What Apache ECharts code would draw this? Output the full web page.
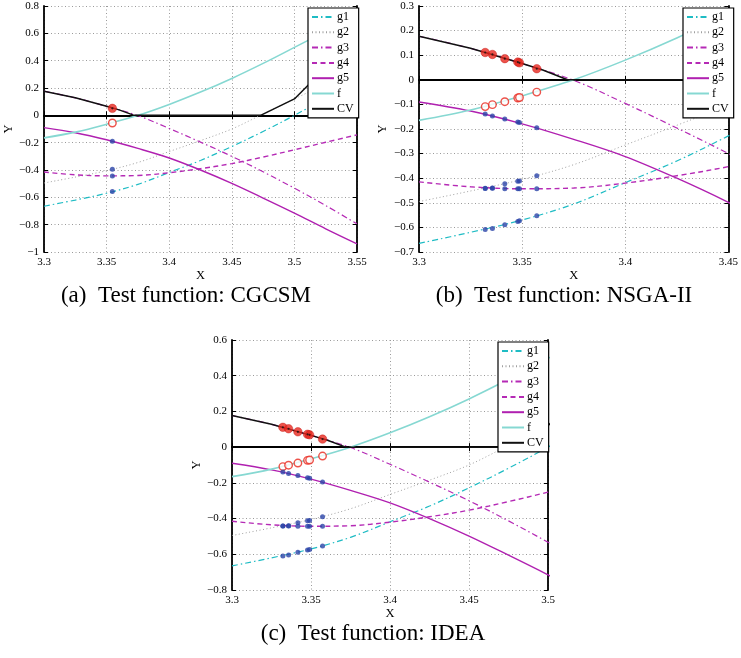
<!DOCTYPE html>
<html><head><meta charset="utf-8">
<script src="https://cdn.jsdelivr.net/npm/echarts@6/dist/echarts.min.js"></script>
<style>html,body{margin:0;padding:0;background:#fff}#c{width:741px;height:658px}</style>
</head><body><div id="c"></div>
<script>
// ---- curve samples (shared problem, same in all panels) ----
const xs  = [3.30, 3.325, 3.35, 3.375, 3.40, 3.425, 3.45, 3.475, 3.50, 3.525, 3.55];
const g1  = [-0.665, -0.62, -0.57, -0.505, -0.418, -0.33, -0.228, -0.118, 0.0, 0.128, 0.265];
const g2  = [-0.495, -0.452, -0.405, -0.345, -0.265, -0.185, -0.10, 0.01, 0.12, 0.23, 0.34];
const g3  = [0.177, 0.128, 0.066, -0.002, -0.096, -0.196, -0.30, -0.413, -0.533, -0.66, -0.794];
const g4  = [-0.415, -0.435, -0.443, -0.44, -0.42, -0.39, -0.353, -0.305, -0.252, -0.197, -0.143];
const g5  = [-0.09, -0.127, -0.179, -0.242, -0.312, -0.40, -0.498, -0.605, -0.715, -0.83, -0.94];
const fv  = [-0.165, -0.123, -0.065, 0.0, 0.08, 0.17, 0.27, 0.38, 0.497, 0.615, 0.735];
const cvX = [3.30, 3.325, 3.35, 3.36, 3.372, 3.473, 3.50, 3.525, 3.55];
const cvY = [0.177, 0.128, 0.066, 0.04, 0.0, 0.0, 0.12, 0.35, 0.59];

// ---- solutions found (a) CGCSM ----
const aX  = [3.3546];
const aCV = [0.051];
const aF  = [-0.056];
const aG5 = [-0.19];
const aG2 = [-0.395];
const aG4 = [-0.443];
const aG1 = [-0.558];
// ---- (b) NSGA-II ----
const bX  = [3.3321, 3.3356, 3.3416, 3.3479, 3.3487, 3.3571];
const bCV = [0.111, 0.103, 0.086, 0.072, 0.069, 0.045];
const bF  = [-0.109, -0.101, -0.089, -0.074, -0.072, -0.05];
const bG5 = [-0.139, -0.147, -0.159, -0.172, -0.174, -0.195];
const bG2 = [-0.441, -0.441, -0.423, -0.412, -0.411, -0.39];
const bG4 = [-0.442, -0.44, -0.443, -0.443, -0.443, -0.443];
const bG1 = [-0.609, -0.604, -0.589, -0.576, -0.573, -0.553];
// ---- (c) IDEA ----
const cX  = [3.3322, 3.3358, 3.3417, 3.3478, 3.3491, 3.3573];
const cCV = [0.111, 0.103, 0.086, 0.072, 0.069, 0.045];
const cF  = [-0.109, -0.101, -0.089, -0.074, -0.072, -0.05];
const cG5 = [-0.139, -0.147, -0.159, -0.172, -0.174, -0.195];
const cG2 = [-0.441, -0.441, -0.423, -0.412, -0.411, -0.39];
const cG4 = [-0.442, -0.44, -0.443, -0.443, -0.443, -0.443];
const cG1 = [-0.609, -0.604, -0.589, -0.576, -0.573, -0.553];

const legendNames = ['g1', 'g2', 'g3', 'g4', 'g5', 'f', 'CV'];
const captions = ['(a)\u2002Test function: CGCSM', '(b)\u2002Test function: NSGA-II', '(c)\u2002Test function: IDEA'];

const FONT = '"Liberation Serif", "Times New Roman", serif';
const zip = (a, b) => a.map((v, i) => [v, b[i]]);
const fmt = v => String(Math.round(v * 1000) / 1000).replace('-', '\u2212');

const panels = [
  {grid: {left: 44, top: 6, width: 313, height: 246}, xmax: 3.55, ymin: -1, ymax: 0.8, yint: 0.2,
   sol: [aX, aCV, aF, aG5, aG2, aG4, aG1], legend: {left: 308, top: 8}, yGap: 28, cap: [186, 296]},
  {grid: {left: 419, top: 6, width: 313, height: 246}, xmax: 3.45, ymin: -0.7, ymax: 0.3, yint: 0.1,
   sol: [bX, bCV, bF, bG5, bG2, bG4, bG1], legend: {left: 683, top: 8}, yGap: 30, cap: [564, 296]},
  {grid: {left: 232, top: 340, width: 316, height: 250}, xmax: 3.5, ymin: -0.8, ymax: 0.6, yint: 0.2,
   sol: [cX, cCV, cF, cG5, cG2, cG4, cG1], legend: {left: 498, top: 342}, yGap: 28, cap: [373, 634]}
];

const grids = [], xAxes = [], yAxes = [], series = [], legends = [], graphics = [];
const axisLineStyle = {show: true, lineStyle: {color: '#000', width: 1.8}};
const tick = {show: true, inside: true, length: 4, lineStyle: {color: '#000', width: 1}};
const split = {show: true, lineStyle: {color: '#9a9a9a', type: [1, 2.5], width: 1}};

const lineDefs = [
  {name: 'g1', x: xs, y: g1, color: '#1fbcc4', width: 1.2, type: [6, 3, 1.5, 3]},
  {name: 'g2', x: xs, y: g2, color: '#a0a0a0', width: 1, type: [1, 2.5]},
  {name: 'g3', x: xs, y: g3, color: '#b52ab5', width: 1.2, type: [6, 3, 1.5, 3]},
  {name: 'g4', x: xs, y: g4, color: '#b52ab5', width: 1.4, type: [5, 3.5]},
  {name: 'g5', x: xs, y: g5, color: '#b020b0', width: 1.4, type: 'solid'},
  {name: 'f', x: xs, y: fv, color: '#86d8d2', width: 1.6, type: 'solid'},
  {name: 'CV', x: cvX, y: cvY, color: '#111111', width: 1.5, type: 'solid', smooth: false}
];

panels.forEach((p, i) => {
  grids.push(p.grid);
  xAxes.push({gridIndex: i, type: 'value', min: 3.3, max: p.xmax, interval: 0.05,
    axisLine: axisLineStyle, axisTick: tick, splitLine: split,
    axisLabel: {color: '#000', fontFamily: FONT, fontSize: 11, margin: 5, formatter: fmt},
    name: 'X', nameLocation: 'middle', nameGap: 13,
    nameTextStyle: {color: '#000', fontFamily: FONT, fontSize: 12.5}});
  xAxes.push({gridIndex: i, type: 'value', position: 'top', min: 3.3, max: p.xmax, interval: 0.05,
    axisLine: axisLineStyle, axisTick: tick, splitLine: {show: false}, axisLabel: {show: false}});
  yAxes.push({gridIndex: i, type: 'value', min: p.ymin, max: p.ymax, interval: p.yint,
    axisLine: axisLineStyle, axisTick: tick, splitLine: split,
    axisLabel: {color: '#000', fontFamily: FONT, fontSize: 11, margin: 5, formatter: fmt},
    name: 'Y', nameLocation: 'middle', nameGap: p.yGap, nameRotate: 90,
    nameTextStyle: {color: '#000', fontFamily: FONT, fontSize: 12.5}});
  yAxes.push({gridIndex: i, type: 'value', position: 'right', min: p.ymin, max: p.ymax, interval: p.yint,
    axisLine: axisLineStyle, axisTick: tick, splitLine: {show: false}, axisLabel: {show: false}});
  const xi = i * 2, yi = i * 2;
  lineDefs.forEach(d => {
    series.push({type: 'line', name: d.name, xAxisIndex: xi, yAxisIndex: yi,
      data: zip(d.x, d.y), showSymbol: false, symbol: 'none', smooth: d.smooth === false ? false : 0.35,
      lineStyle: {color: d.color, width: d.width, type: d.type}, itemStyle: {color: d.color},
      z: 2, silent: true, animation: false});
  });
  const [sx, scv, sf, s5, s2, s4, s1] = p.sol;
  series.push({type: 'scatter', xAxisIndex: xi, yAxisIndex: yi, data: zip(sx, scv), symbol: 'circle',
    symbolSize: 8.5, itemStyle: {color: '#e8281e', borderColor: '#c01010', borderWidth: 0.5}, z: 3, animation: false, silent: true});
  series.push({type: 'scatter', xAxisIndex: xi, yAxisIndex: yi, data: zip(sx, scv), symbol: 'circle',
    symbolSize: 2.2, itemStyle: {color: '#111'}, z: 4, animation: false, silent: true});
  series.push({type: 'scatter', xAxisIndex: xi, yAxisIndex: yi, data: zip(sx, sf), symbol: 'circle',
    symbolSize: 7.5, itemStyle: {color: '#fff', borderColor: '#e8281e', borderWidth: 1.4}, z: 3, animation: false, silent: true});
  [s5, s2, s4, s1].forEach(arr => {
    series.push({type: 'scatter', xAxisIndex: xi, yAxisIndex: yi, data: zip(sx, arr), symbol: 'circle',
      symbolSize: 5, itemStyle: {color: '#2a44a8'}, z: 3, animation: false, silent: true});
  });
  legends.push({data: legendNames, orient: 'vertical', left: p.legend.left, top: p.legend.top,
    itemWidth: 22, itemHeight: 10, itemGap: 3.3, padding: [3, 5, 3, 3],
    backgroundColor: '#fff', borderColor: '#000', borderWidth: 1.2, selectedMode: false,
    itemStyle: {opacity: 0},
    textStyle: {color: '#000', fontFamily: FONT, fontSize: 12, padding: [0, 0, 0, -2]}});
  graphics.push({type: 'text', x: p.cap[0], y: p.cap[1],
    style: {text: captions[i], font: '23px ' + FONT, fill: '#000', align: 'center', verticalAlign: 'middle'}});
});

const chart = echarts.init(document.getElementById('c'), null, {renderer: 'canvas'});
chart.setOption({
  backgroundColor: '#fff',
  animation: false,
  grid: grids, xAxis: xAxes, yAxis: yAxes, series: series, legend: legends, graphic: graphics
});
</script>
</body></html>
